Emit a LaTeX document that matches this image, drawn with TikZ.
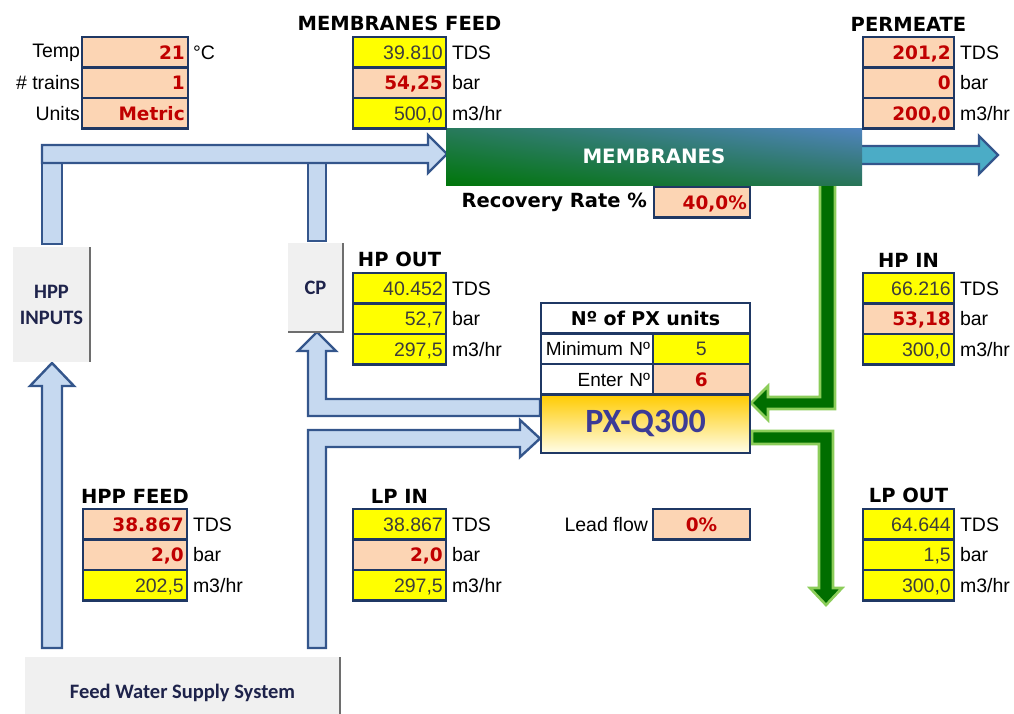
\documentclass[tikz,border=0pt]{standalone}
\usepackage{fontspec}
\setmainfont{Liberation Sans}
\newfontfamily\heavyfont{DejaVu Sans}
\newfontfamily\buttonfont{Carlito}
\usepackage{xcolor}
\definecolor{cellNavy}{RGB}{31,56,100}
\definecolor{calcYellow}{RGB}{255,255,0}
\definecolor{inputPeach}{RGB}{252,213,180}
\definecolor{valRed}{RGB}{192,0,0}
\definecolor{valGray}{RGB}{60,60,60}
\definecolor{pipeBlue}{RGB}{198,217,240}
\definecolor{pipeEdge}{RGB}{52,86,140}
\definecolor{permBlue}{RGB}{75,172,198}
\definecolor{brineGreen}{RGB}{0,110,0}
\definecolor{brineEdge}{RGB}{140,205,90}
\definecolor{btnGray}{RGB}{240,240,240}
\definecolor{btnShade}{RGB}{110,110,110}
\definecolor{btnText}{RGB}{30,35,75}
\definecolor{pxText}{RGB}{60,60,150}
\definecolor{pxGold}{RGB}{255,203,0}
\definecolor{pxMid}{RGB}{255,236,110}
\definecolor{pxCream}{RGB}{255,253,232}
\definecolor{membGreen}{RGB}{0,118,10}
\definecolor{membTealA}{RGB}{40,122,92}
\definecolor{membTealB}{RGB}{40,116,88}
\definecolor{membBlue}{RGB}{80,132,190}
\usepackage{tikz}
\usetikzlibrary{positioning,shadings}

\tikzset{
  cell/.style={draw=cellNavy, line width=2.4pt, rectangle, inner xsep=3pt, inner ysep=0pt,
    outer sep=0pt, minimum height=30.4pt, text height=14pt, text depth=0pt, align=right,
    font=\fontsize{19.5}{22}\selectfont},
  calccell/.style={cell, fill=calcYellow, text=valGray},
  inputcell/.style={cell, fill=inputPeach, text=valRed,
    font=\heavyfont\bfseries\fontsize{18.5}{22}\selectfont},
  plaincell/.style={cell, fill=white, text=black, font=\fontsize{19}{22}\selectfont},
  unitlabel/.style={inner sep=0pt, text=black, font=\fontsize{19.5}{22}\selectfont},
  tabtitle/.style={inner sep=0pt, text=black, font=\heavyfont\bfseries\fontsize{19.5}{22}\selectfont},
  pipe/.style={fill=pipeBlue, draw=pipeEdge, line width=2.4pt},
  brine/.style={fill=brineGreen, draw=brineEdge, line width=2.6pt},
  button/.style={fill=btnGray, draw=none, inner sep=0pt, outer sep=0pt, align=center,
    text=btnText, font=\buttonfont\bfseries\fontsize{20.5}{26}\selectfont},
}

\begin{document}
\begin{tikzpicture}[x=1pt, y=-1pt]
  \useasboundingbox (0,0) rectangle (1014,713);

  % ---- blue pipes (feed side) ----
  \draw[pipe] (42,150) rectangle (62,244);                 % up from HPP inputs
  \draw[pipe] (308,150) rectangle (326,241);               % up from CP
  \draw[pipe] (42,145) -- (428,145) -- (428,135) -- (447,154) -- (428,173)
    -- (428,163) -- (42,163) -- cycle;                     % into membranes
  \draw[pipe] (42,648) -- (42,386) -- (30,386) -- (52,363) -- (74,386)
    -- (62,386) -- (62,648) -- cycle;                      % feed to HPP
  \draw[pipe] (540,399) -- (326,399) -- (326,351) -- (336,351) -- (317,332)
    -- (298,351) -- (308,351) -- (308,416) -- (540,416) -- cycle; % PX to CP
  \draw[pipe] (308,648) -- (308,430) -- (520,430) -- (520,420) -- (540,438.5)
    -- (520,457) -- (520,447) -- (326,447) -- (326,648) -- cycle; % feed to PX

  % ---- permeate and brine ----
  \draw[fill=permBlue, draw=pipeEdge, line width=2.4pt] (860,146) -- (979,146)
    -- (979,136) -- (998,155) -- (979,174) -- (979,164) -- (860,164) -- cycle;
  \draw[brine] (820,184) -- (820,397) -- (768,397) -- (768,386) -- (751,403)
    -- (768,420) -- (768,409) -- (835,409) -- (835,184) -- cycle; % HP in
  \draw[brine] (752,431) -- (833,431) -- (833,588) -- (842,588) -- (826,605)
    -- (810,588) -- (819,588) -- (819,444) -- (752,444) -- cycle; % LP out

  % ---- membranes bar ----
  \node[anchor=north west, minimum width=416pt, minimum height=57pt, inner sep=0pt,
    outer sep=0pt, lower left=membGreen, upper left=membTealA, upper right=membBlue,
    lower right=membTealB, text=white,
    font=\heavyfont\bfseries\fontsize{19.8}{22}\selectfont] (membr) at (446,128) {MEMBRANES};

  % ---- buttons ----
  \node[button, minimum width=77pt, minimum height=115pt, anchor=north west] (hppIn)
    at (13,247) {HPP\\INPUTS};
  \draw[btnShade, line width=2pt] (hppIn.north east) -- (hppIn.south east);
  \node[button, minimum width=55pt, minimum height=89pt, anchor=north west] (cp)
    at (288,243) {CP};
  \draw[btnShade, line width=2pt] (cp.north east) -- (cp.south east) -- (cp.south west);
  \node[button, minimum width=315pt, minimum height=72pt, anchor=north west] (feedSys)
    at (25,657) {Feed Water Supply System};
  \draw[btnShade, line width=2pt] (feedSys.north east) -- (feedSys.south east);

  % ---- setup ----
  \node[inputcell, text width=99.6pt, anchor=north west] (tlTemp) at (82.2,37.2) {21};
  \node[inputcell, text width=99.6pt, below=0pt of tlTemp] (tlTrains) {1};
  \node[inputcell, text width=99.6pt, below=0pt of tlTrains] (tlUnits) {Metric};
  \node[unitlabel, left=2pt of tlTemp] (tlTempL) {Temp};
  \node[unitlabel, left=2pt of tlTrains] (tlTrainsL) {\# trains};
  \node[unitlabel, left=2pt of tlUnits] (tlUnitsL) {Units};
  \node[unitlabel, right=5pt of tlTemp] (tlTempU) {°C};

  % ---- membranes feed ----
  \node[calccell, text width=86.6pt, anchor=north west] (mfTds) at (353.2,37.2) {39.810};
  \node[inputcell, text width=86.6pt, below=0pt of mfTds] (mfBar) {54,25};
  \node[calccell, text width=86.6pt, below=0pt of mfBar] (mfFlow) {500,0};
  \node[unitlabel, right=6pt of mfTds] (mfTdsU) {TDS};
  \node[unitlabel, right=6pt of mfBar] (mfBarU) {bar};
  \node[unitlabel, right=6pt of mfFlow] (mfFlowU) {m3/hr};
  \node[tabtitle, above=6pt of mfTds] (mfTitle) {MEMBRANES FEED};

  % ---- permeate ----
  \node[inputcell, text width=84.6pt, anchor=north west] (pmTds) at (863.2,37.2) {201,2};
  \node[inputcell, text width=84.6pt, below=0pt of pmTds] (pmBar) {0};
  \node[inputcell, text width=84.6pt, below=0pt of pmBar] (pmFlow) {200,0};
  \node[unitlabel, right=6pt of pmTds] (pmTdsU) {TDS};
  \node[unitlabel, right=6pt of pmBar] (pmBarU) {bar};
  \node[unitlabel, right=6pt of pmFlow] (pmFlowU) {m3/hr};
  \node[tabtitle, above=6pt of pmTds] (pmTitle) {PERMEATE};

  % ---- recovery ----
  \node[inputcell, text width=89.6pt, anchor=north west] (recov) at (654.2,187.2) {40,0\%};
  \node[tabtitle, left=7pt of recov] (recovL) {Recovery Rate \%};

  % ---- HP out ----
  \node[calccell, text width=86.6pt, anchor=north west] (hoTds) at (353.2,273.2) {40.452};
  \node[calccell, text width=86.6pt, below=0pt of hoTds] (hoBar) {52,7};
  \node[calccell, text width=86.6pt, below=0pt of hoBar] (hoFlow) {297,5};
  \node[unitlabel, right=6pt of hoTds] (hoTdsU) {TDS};
  \node[unitlabel, right=6pt of hoBar] (hoBarU) {bar};
  \node[unitlabel, right=6pt of hoFlow] (hoFlowU) {m3/hr};
  \node[tabtitle, above=6pt of hoTds] (hoTitle) {HP OUT};

  % ---- HP in ----
  \node[calccell, text width=84.6pt, anchor=north west] (hiTds) at (863.2,273.2) {66.216};
  \node[inputcell, text width=84.6pt, below=0pt of hiTds] (hiBar) {53,18};
  \node[calccell, text width=84.6pt, below=0pt of hiBar] (hiFlow) {300,0};
  \node[unitlabel, right=6pt of hiTds] (hiTdsU) {TDS};
  \node[unitlabel, right=6pt of hiBar] (hiBarU) {bar};
  \node[unitlabel, right=6pt of hiFlow] (hiFlowU) {m3/hr};
  \node[tabtitle, above=6pt of hiTds] (hiTitle) {HP IN};

  % ---- PX units ----
  \node[plaincell, align=center, text width=202.6pt, anchor=north west,
    font=\heavyfont\bfseries\fontsize{19}{22}\selectfont] (pxTitle) at (541.2,303.2) {Nº of PX units};
  \node[plaincell, text width=105.8pt, anchor=north west] (pxMinL) at (pxTitle.south west) {Minimum Nº};
  \node[calccell, align=center, text width=90.8pt, anchor=north west] (pxMin) at (pxMinL.north east) {5};
  \node[plaincell, text width=105.8pt, below=0pt of pxMinL] (pxEnterL) {Enter Nº};
  \node[inputcell, align=center, text width=90.8pt, below=0pt of pxMin] (pxEnter) {6};
  \node[draw=cellNavy, line width=2.4pt, outer sep=0pt, inner sep=0pt, anchor=north west,
    minimum width=208.6pt, minimum height=58.4pt, top color=pxGold, middle color=pxMid,
    bottom color=pxCream, text=pxText,
    font=\buttonfont\bfseries\fontsize{34}{38}\selectfont] (px) at (pxEnterL.south west) {PX-Q300};

  % ---- HPP feed ----
  \node[inputcell, text width=97.6pt, anchor=north west] (hfTds) at (83.2,509.2) {38.867};
  \node[inputcell, text width=97.6pt, below=0pt of hfTds] (hfBar) {2,0};
  \node[calccell, text width=97.6pt, below=0pt of hfBar] (hfFlow) {202,5};
  \node[unitlabel, right=6pt of hfTds] (hfTdsU) {TDS};
  \node[unitlabel, right=6pt of hfBar] (hfBarU) {bar};
  \node[unitlabel, right=6pt of hfFlow] (hfFlowU) {m3/hr};
  \node[tabtitle, above=6pt of hfTds] (hfTitle) {HPP FEED};

  % ---- LP in ----
  \node[calccell, text width=86.6pt, anchor=north west] (liTds) at (353.2,509.2) {38.867};
  \node[inputcell, text width=86.6pt, below=0pt of liTds] (liBar) {2,0};
  \node[calccell, text width=86.6pt, below=0pt of liBar] (liFlow) {297,5};
  \node[unitlabel, right=6pt of liTds] (liTdsU) {TDS};
  \node[unitlabel, right=6pt of liBar] (liBarU) {bar};
  \node[unitlabel, right=6pt of liFlow] (liFlowU) {m3/hr};
  \node[tabtitle, above=6pt of liTds] (liTitle) {LP IN};

  % ---- lead flow ----
  \node[inputcell, align=center, text width=90.6pt, anchor=north west] (lead) at (653.2,509.2) {0\%};
  \node[unitlabel, left=5pt of lead] (leadL) {Lead flow};

  % ---- LP out ----
  \node[calccell, text width=84.6pt, anchor=north west] (loTds) at (863.2,509.2) {64.644};
  \node[calccell, text width=84.6pt, below=0pt of loTds] (loBar) {1,5};
  \node[calccell, text width=84.6pt, below=0pt of loBar] (loFlow) {300,0};
  \node[unitlabel, right=6pt of loTds] (loTdsU) {TDS};
  \node[unitlabel, right=6pt of loBar] (loBarU) {bar};
  \node[unitlabel, right=6pt of loFlow] (loFlowU) {m3/hr};
  \node[tabtitle, above=6pt of loTds] (loTitle) {LP OUT};
\end{tikzpicture}
\end{document}
